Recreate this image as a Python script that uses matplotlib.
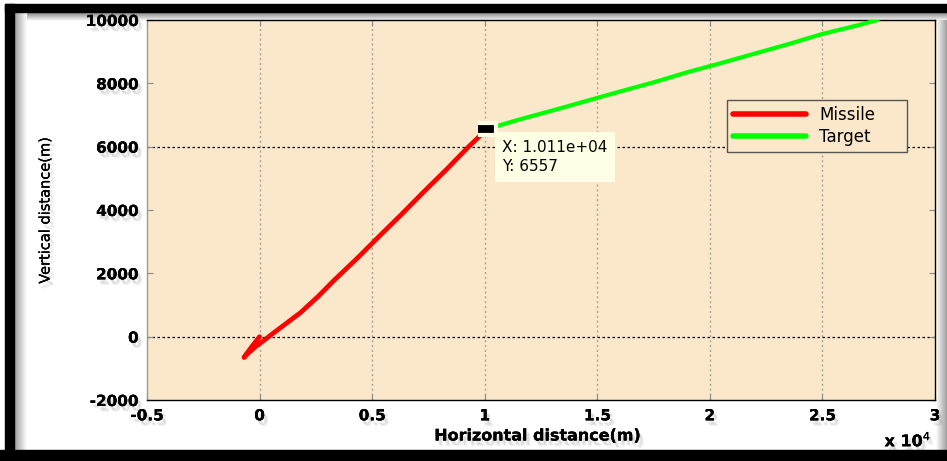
import numpy as np
import matplotlib
matplotlib.use("Agg")
import matplotlib.pyplot as plt
import matplotlib.patheffects as pe
from matplotlib.patches import Rectangle

# missile path (m): short dip below the launch point, then climb to intercept
missile_x = [0, -330, -600, -690, -560, -180, 180, 580, 1820, 2600, 3290, 4300,
             5300, 6300, 7300, 8300, 9300, 10110]
missile_y = [0, -300, -560, -660, -560, -316, -126, 95, 760, 1270, 1768, 2450,
             3160, 3860, 4580, 5280, 6010, 6557]

# target path (m)
target_x = [10110, 11500, 13000, 14500, 16000, 17500, 19000, 20500, 22000,
            23500, 25000, 26500, 27450]
target_y = [6557, 6850, 7140, 7440, 7740, 8030, 8350, 8640, 8940, 9240,
            9560, 9820, 10000]

tip_x, tip_y = 10110, 6557

xticks = [-5000, 0, 5000, 10000, 15000, 20000, 25000, 30000]
xtick_labels = ['-0.5', '0', '0.5', '1', '1.5', '2', '2.5', '3']
yticks = [-2000, 0, 2000, 4000, 6000, 8000, 10000]
ytick_labels = ['-2000', '0', '2000', '4000', '6000', '8000', '10000']

W, H = 947, 461
fig = plt.figure(figsize=(W / 100, H / 100), dpi=100)
fig.patch.set_facecolor('white')


def fx(px):
    return px / W


def fy(py):
    return 1 - py / H


def gradient(x0, y0, x1, y1, vertical, c0, c1):
    g = fig.add_axes([fx(x0), fy(y1), fx(x1) - fx(x0), fy(y0) - fy(y1)], zorder=-5)
    g.set_axis_off()
    t = np.linspace(0, 1, 64)
    cols = np.array(c0)[None, :] * (1 - t[:, None]) + np.array(c1)[None, :] * t[:, None]
    img = cols[:, None, :] if vertical else cols[None, :, :]
    g.imshow(img, aspect='auto', interpolation='bilinear')


# window frame and its shading
gradient(14, 12, 947, 21, True, (0.5, 0.5, 0.5), (1, 1, 1))
gradient(14, 12, 26, 450, False, (0.6, 0.6, 0.6), (1, 1, 1))
gradient(936, 20, 947, 450, False, (1, 1, 1), (0.62, 0.62, 0.62))
fig.patches.append(Rectangle((fx(5), 0), fx(14) - fx(5), fy(4), transform=fig.transFigure,
                             color='black', zorder=10))
fig.patches.append(Rectangle((fx(5), fy(12)), 1 - fx(5), fy(4) - fy(12),
                             transform=fig.transFigure, color='black', zorder=10))
fig.patches.append(Rectangle((0, 0), 1, 11 / H, transform=fig.transFigure,
                             color='black', zorder=10))

ax = fig.add_axes([fx(147), fy(400), fx(935) - fx(147), fy(20) - fy(400)])
ax.set_facecolor('#FBE8CA')

# soft drop shadow under the labels
shadow = [pe.withSimplePatchShadow(offset=(3, -4), shadow_rgbFace=(0.5, 0.5, 0.5), alpha=0.12),
          pe.withSimplePatchShadow(offset=(2, -3), shadow_rgbFace=(0.5, 0.5, 0.5), alpha=0.18),
          pe.Normal()]

ax.set_xlim(-5000, 30000)
ax.set_ylim(-2000, 10000)
ax.set_xticks(xticks)
ax.set_xticklabels(xtick_labels)
ax.set_yticks(yticks)
ax.set_yticklabels(ytick_labels)
ax.tick_params(direction='in', length=4, color='#8a8a8a', top=True, right=True,
               labelsize=11, pad=6)
for lab in ax.get_xticklabels() + ax.get_yticklabels():
    lab.set_fontfamily('DejaVu Sans')
    lab.set_fontweight('bold')
    lab.set_path_effects(shadow)

for s in ax.spines.values():
    s.set_color('black')
    s.set_linewidth(1)
ax.spines['left'].set_color('#9a9a9a')

# grid: grey dotted verticals, black dotted horizontals at 0 and 6000
for xv in xticks[1:-1]:
    ax.axvline(xv, color='#aaa395', lw=1, ls=(0, (1.5, 2)), zorder=1)
for yv in [0, 6000]:
    ax.axhline(yv, color='black', lw=0.9, ls=(0, (2, 2)), zorder=1)

ax.plot(missile_x, missile_y, color='#FF0000', lw=3.4, solid_capstyle='round',
        solid_joinstyle='round', label='Missile', zorder=3)
ax.plot(target_x, target_y, color='#00FF00', lw=3, solid_capstyle='round',
        label='Target', zorder=3)

# data cursor
rect_marker = [(-1.6, -1), (1.6, -1), (1.6, 1), (-1.6, 1)]
ax.plot([tip_x], [tip_y], marker=rect_marker, markersize=13, color='black',
        mec='#FFFFE4', mew=3, ls='none', zorder=5)
ax.annotate('X: 1.011e+04\nY: %d' % tip_y, xy=(tip_x, tip_y), xytext=(15, -11),
            textcoords='offset pixels', ha='left', va='top', fontsize=11,
            family='DejaVu Sans', linespacing=1.35, zorder=6,
            bbox=dict(boxstyle='square,pad=0.5', fc='#FFFFE6', ec='none'))

leg = ax.legend(loc='center', bbox_to_anchor=(0.736, 0.655, 0.228, 0.132), mode='expand',
                borderaxespad=0, handlelength=4.4, handletextpad=0.8, labelspacing=0.25,
                borderpad=0.35, frameon=True, fancybox=False,
                prop={'family': 'DejaVu Sans', 'size': 12})
leg.get_frame().set_facecolor('#FBE8CA')
leg.get_frame().set_edgecolor('#555555')
leg.get_frame().set_alpha(1)
for line in leg.get_lines():
    line.set_linewidth(4)

fig.text(fx(538), fy(436), 'Horizontal distance(m)', ha='center', va='center',
         fontsize=11.5, fontweight='bold', family='DejaVu Sans', path_effects=shadow)
fig.text(fx(45), fy(210), 'Vertical distance(m)', ha='center', va='center', rotation=90,
         fontsize=10.5, family='DejaVu Sans', path_effects=shadow)
fig.text(fx(908), fy(440), r'x 10$^4$', ha='center', va='center', fontsize=11.5,
         fontweight='bold', family='DejaVu Sans', path_effects=shadow)

fig.savefig('out.png', dpi=100)
